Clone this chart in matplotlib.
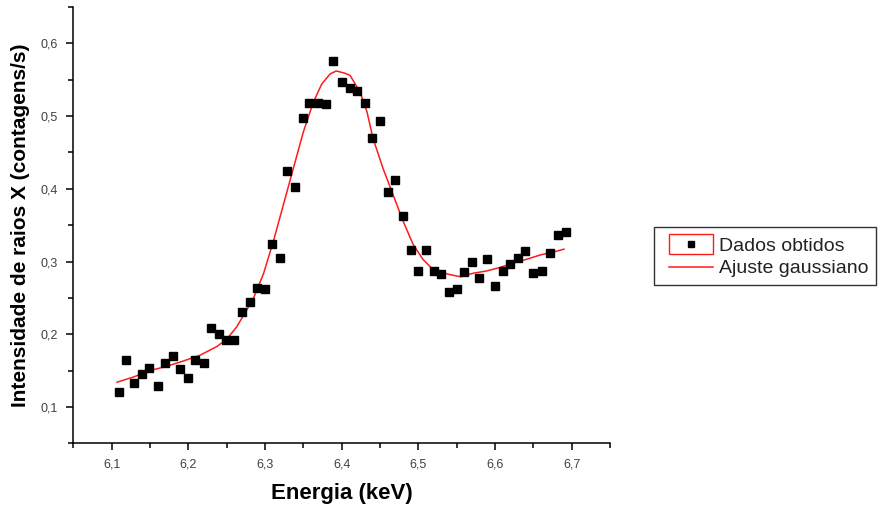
import matplotlib
matplotlib.use("Agg")
import matplotlib.pyplot as plt
from matplotlib.patches import Rectangle
from matplotlib.lines import Line2D

plt.rcParams['font.family'] = ['Liberation Sans', 'DejaVu Sans']

energia = [6.109, 6.119, 6.129, 6.139, 6.149, 6.160, 6.170, 6.180, 6.189, 6.199,
           6.209, 6.220, 6.230, 6.240, 6.249, 6.260, 6.270, 6.280, 6.290, 6.300,
           6.309, 6.320, 6.329, 6.339, 6.350, 6.358, 6.369, 6.380, 6.389, 6.400,
           6.411, 6.420, 6.430, 6.440, 6.450, 6.461, 6.470, 6.480, 6.490, 6.500,
           6.510, 6.520, 6.529, 6.540, 6.550, 6.560, 6.570, 6.579, 6.590, 6.600,
           6.610, 6.620, 6.630, 6.639, 6.650, 6.661, 6.672, 6.682, 6.692]
intensidade = [0.120, 0.164, 0.133, 0.145, 0.153, 0.129, 0.161, 0.170, 0.152, 0.140,
               0.164, 0.161, 0.208, 0.200, 0.192, 0.192, 0.230, 0.245, 0.264, 0.262,
               0.324, 0.305, 0.425, 0.403, 0.497, 0.518, 0.518, 0.516, 0.576, 0.547,
               0.538, 0.535, 0.518, 0.470, 0.493, 0.396, 0.412, 0.362, 0.316, 0.287,
               0.316, 0.287, 0.283, 0.258, 0.262, 0.285, 0.299, 0.277, 0.303, 0.267,
               0.287, 0.296, 0.305, 0.314, 0.284, 0.287, 0.312, 0.337, 0.341]

# gaussian fit curve
ajuste_x = [6.107, 6.128, 6.150, 6.172, 6.193, 6.215, 6.237, 6.250, 6.263, 6.276,
            6.286, 6.298, 6.311, 6.324, 6.337, 6.350, 6.363, 6.374, 6.385, 6.393,
            6.404, 6.411, 6.424, 6.433, 6.441, 6.454, 6.467, 6.480, 6.493, 6.506,
            6.519, 6.537, 6.555, 6.572, 6.589, 6.607, 6.624, 6.641, 6.659, 6.676, 6.690]
ajuste_y = [0.134, 0.141, 0.150, 0.156, 0.163, 0.171, 0.183, 0.193, 0.210, 0.233,
            0.252, 0.283, 0.328, 0.378, 0.428, 0.478, 0.519, 0.544, 0.558, 0.562,
            0.559, 0.556, 0.533, 0.506, 0.469, 0.428, 0.392, 0.356, 0.324, 0.303,
            0.289, 0.283, 0.279, 0.284, 0.287, 0.292, 0.298, 0.303, 0.309, 0.313, 0.317]

x_ticks = [6.1, 6.2, 6.3, 6.4, 6.5, 6.6, 6.7]
x_labels = ['6,1', '6,2', '6,3', '6,4', '6,5', '6,6', '6,7']
y_ticks = [0.1, 0.2, 0.3, 0.4, 0.5, 0.6]
y_labels = ['0,1', '0,2', '0,3', '0,4', '0,5', '0,6']

RED = '#ff1a1a'

fig = plt.figure(figsize=(8.82, 5.14), dpi=100)
ax = fig.add_axes([0.0831, 0.1375, 0.6085, 0.8489])

pts, = ax.plot(energia, intensidade, 's', color='black', markersize=6, zorder=3)
fit, = ax.plot(ajuste_x, ajuste_y, '-', color=RED, linewidth=1.1, zorder=2)

ax.set_xlim(6.05, 6.75)
ax.set_ylim(0.05, 0.65)

ax.spines['top'].set_visible(False)
ax.spines['right'].set_visible(False)
for s in ['left', 'bottom']:
    ax.spines[s].set_linewidth(1.1)

ax.set_xticks(x_ticks)
ax.set_xticklabels(x_labels)
ax.set_yticks(y_ticks)
ax.set_yticklabels(y_labels)
ax.set_xticks([6.05, 6.15, 6.25, 6.35, 6.45, 6.55, 6.65, 6.75], minor=True)
ax.set_yticks([0.05, 0.15, 0.25, 0.35, 0.45, 0.55, 0.65], minor=True)
ax.tick_params(which='major', direction='out', length=5, width=1.1,
               labelsize=9, labelcolor='#404040', pad=6)
ax.tick_params(which='minor', direction='out', length=3.5, width=1.1)

ax.set_xlabel('Energia (keV)', fontsize=16, fontweight='bold', labelpad=9)
ax.set_ylabel('Intensidade de raios X (contagens/s)', fontsize=15,
              fontweight='bold', labelpad=8)


# Origin-like legend symbols: inset from the left, red frame round the data symbol
class InsetHandler:
    def __init__(self, kind, inset=5.5):
        self.kind = kind
        self.inset = inset

    def legend_artist(self, legend, orig_handle, fontsize, handlebox):
        x0, y0 = -handlebox.xdescent, -handlebox.ydescent
        w, h = handlebox.width, handlebox.height
        tr = handlebox.get_transform()
        left = x0 + self.inset
        if self.kind == 'data':
            rect = Rectangle((left, y0), w - self.inset, h, facecolor='none',
                             edgecolor=RED, linewidth=1.0, transform=tr)
            dot = Line2D([left + (w - self.inset) / 2], [y0 + h / 2], marker='s',
                         color='black', markersize=4.5, linestyle='none', transform=tr)
            handlebox.add_artist(rect)
            handlebox.add_artist(dot)
            return rect
        line = Line2D([left, x0 + w], [y0 + h / 2, y0 + h / 2], color=RED,
                      linewidth=1.1, transform=tr)
        handlebox.add_artist(line)
        return line


leg = fig.legend([pts, fit], ['Dados obtidos', 'Ajuste gaussiano'],
                 handler_map={pts: InsetHandler('data'), fit: InsetHandler('line')},
                 loc='upper left', bbox_to_anchor=(654 / 882, 1 - 227 / 514),
                 fontsize=14, frameon=True, fancybox=False, shadow=False,
                 handlelength=2.66, handleheight=1.15, handletextpad=0.3,
                 labelspacing=0.12, borderpad=0.38, borderaxespad=0)
leg.get_frame().set_edgecolor('black')
leg.get_frame().set_linewidth(1.0)
for t in leg.get_texts():
    t.set_color('#222222')

fig.savefig('out.png', dpi=100)
